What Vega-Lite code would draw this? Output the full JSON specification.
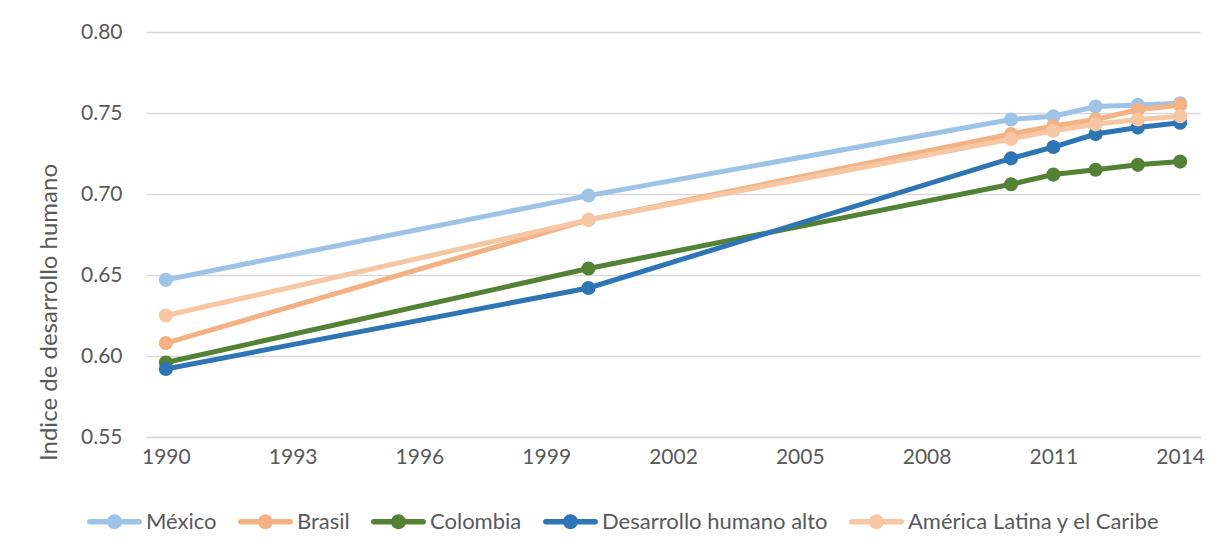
{
  "$schema": "https://vega.github.io/schema/vega-lite/v6.json",
  "width": 1054,
  "height": 405,
  "autosize": {"type": "none"},
  "padding": {"left": 146, "top": 32, "right": 23, "bottom": 117},
  "background": "white",
  "config": {
    "font": "Lato",
    "view": {"stroke": null}
  },
  "data": {
    "values": [
      {"serie": "México", "year": 1990, "value": 0.647},
      {"serie": "México", "year": 2000, "value": 0.699},
      {"serie": "México", "year": 2010, "value": 0.746},
      {"serie": "México", "year": 2011, "value": 0.748},
      {"serie": "México", "year": 2012, "value": 0.754},
      {"serie": "México", "year": 2013, "value": 0.755},
      {"serie": "México", "year": 2014, "value": 0.756},
      {"serie": "Brasil", "year": 1990, "value": 0.608},
      {"serie": "Brasil", "year": 2000, "value": 0.684},
      {"serie": "Brasil", "year": 2010, "value": 0.737},
      {"serie": "Brasil", "year": 2011, "value": 0.742},
      {"serie": "Brasil", "year": 2012, "value": 0.746},
      {"serie": "Brasil", "year": 2013, "value": 0.752},
      {"serie": "Brasil", "year": 2014, "value": 0.755},
      {"serie": "Colombia", "year": 1990, "value": 0.596},
      {"serie": "Colombia", "year": 2000, "value": 0.654},
      {"serie": "Colombia", "year": 2010, "value": 0.706},
      {"serie": "Colombia", "year": 2011, "value": 0.712},
      {"serie": "Colombia", "year": 2012, "value": 0.715},
      {"serie": "Colombia", "year": 2013, "value": 0.718},
      {"serie": "Colombia", "year": 2014, "value": 0.720},
      {"serie": "Desarrollo humano alto", "year": 1990, "value": 0.592},
      {"serie": "Desarrollo humano alto", "year": 2000, "value": 0.642},
      {"serie": "Desarrollo humano alto", "year": 2010, "value": 0.722},
      {"serie": "Desarrollo humano alto", "year": 2011, "value": 0.729},
      {"serie": "Desarrollo humano alto", "year": 2012, "value": 0.737},
      {"serie": "Desarrollo humano alto", "year": 2013, "value": 0.741},
      {"serie": "Desarrollo humano alto", "year": 2014, "value": 0.744},
      {"serie": "América Latina y el Caribe", "year": 1990, "value": 0.625},
      {"serie": "América Latina y el Caribe", "year": 2000, "value": 0.684},
      {"serie": "América Latina y el Caribe", "year": 2010, "value": 0.734},
      {"serie": "América Latina y el Caribe", "year": 2011, "value": 0.739},
      {"serie": "América Latina y el Caribe", "year": 2012, "value": 0.743},
      {"serie": "América Latina y el Caribe", "year": 2013, "value": 0.746},
      {"serie": "América Latina y el Caribe", "year": 2014, "value": 0.748}
    ]
  },
  "mark": {"type": "line", "strokeWidth": 5, "point": {"filled": true, "size": 200, "opacity": 1}},
  "encoding": {
    "x": {
      "field": "year",
      "type": "quantitative",
      "scale": {"domain": [1989.53, 2014.47], "nice": false, "zero": false},
      "axis": {
        "title": null,
        "values": [1990, 1993, 1996, 1999, 2002, 2005, 2008, 2011, 2014],
        "format": "d",
        "grid": false,
        "ticks": false,
        "tickSize": 0,
        "domainColor": "#D9D9D9",
        "domainWidth": 1.5,
        "labelFont": "Lato",
        "labelFontSize": 21,
        "labelColor": "#595959",
        "labelPadding": 20,
        "labelBaseline": "middle",
        "labelFlush": false
      }
    },
    "y": {
      "field": "value",
      "type": "quantitative",
      "scale": {"domain": [0.55, 0.80], "nice": false, "zero": false},
      "axis": {
        "title": "Indice de desarrollo humano",
        "titleFont": "Lato",
        "titleFontSize": 24,
        "titleFontWeight": "normal",
        "titleColor": "#595959",
        "titleAngle": -90,
        "titleX": -90,
        "titleY": 280,
        "titleAlign": "center",
        "titleBaseline": "alphabetic",
        "values": [0.55, 0.60, 0.65, 0.70, 0.75, 0.80],
        "format": ".2f",
        "domain": false,
        "ticks": false,
        "tickSize": 0,
        "gridColor": "#D9D9D9",
        "gridWidth": 1.5,
        "labelFont": "Lato",
        "labelFontSize": 21,
        "labelColor": "#595959",
        "labelPadding": 24
      }
    },
    "color": {
      "field": "serie",
      "type": "nominal",
      "sort": ["México", "Brasil", "Colombia", "Desarrollo humano alto", "América Latina y el Caribe"],
      "scale": {
        "domain": ["México", "Brasil", "Colombia", "Desarrollo humano alto", "América Latina y el Caribe"],
        "range": ["#9DC3E6", "#F4B183", "#548235", "#2E75B6", "#F7C6A3"]
      },
      "legend": {
        "title": null,
        "orient": "none",
        "direction": "horizontal",
        "legendX": -59,
        "legendY": 462,
        "symbolType": "M-0.9,-0.1H0.9A0.1,0.1 0 0,1 0.9,0.1H-0.9A0.1,0.1 0 0,1 -0.9,-0.1Z M0.27,0A0.27,0.27 0 1,1 -0.27,0A0.27,0.27 0 1,1 0.27,0Z",
        "symbolSize": 3025,
        "symbolStrokeWidth": 0,
        "symbolOpacity": 1,
        "labelFont": "Lato",
        "labelFontSize": 22,
        "labelColor": "#595959",
        "labelOffset": 4,
        "columnPadding": 21,
        "labelLimit": 400,
        "encode": {
          "symbols": {"update": {"fill": {"scale": "color", "field": "value"}, "strokeWidth": {"value": 0}, "opacity": {"value": 1}}}
        }
      }
    }
  }
}
